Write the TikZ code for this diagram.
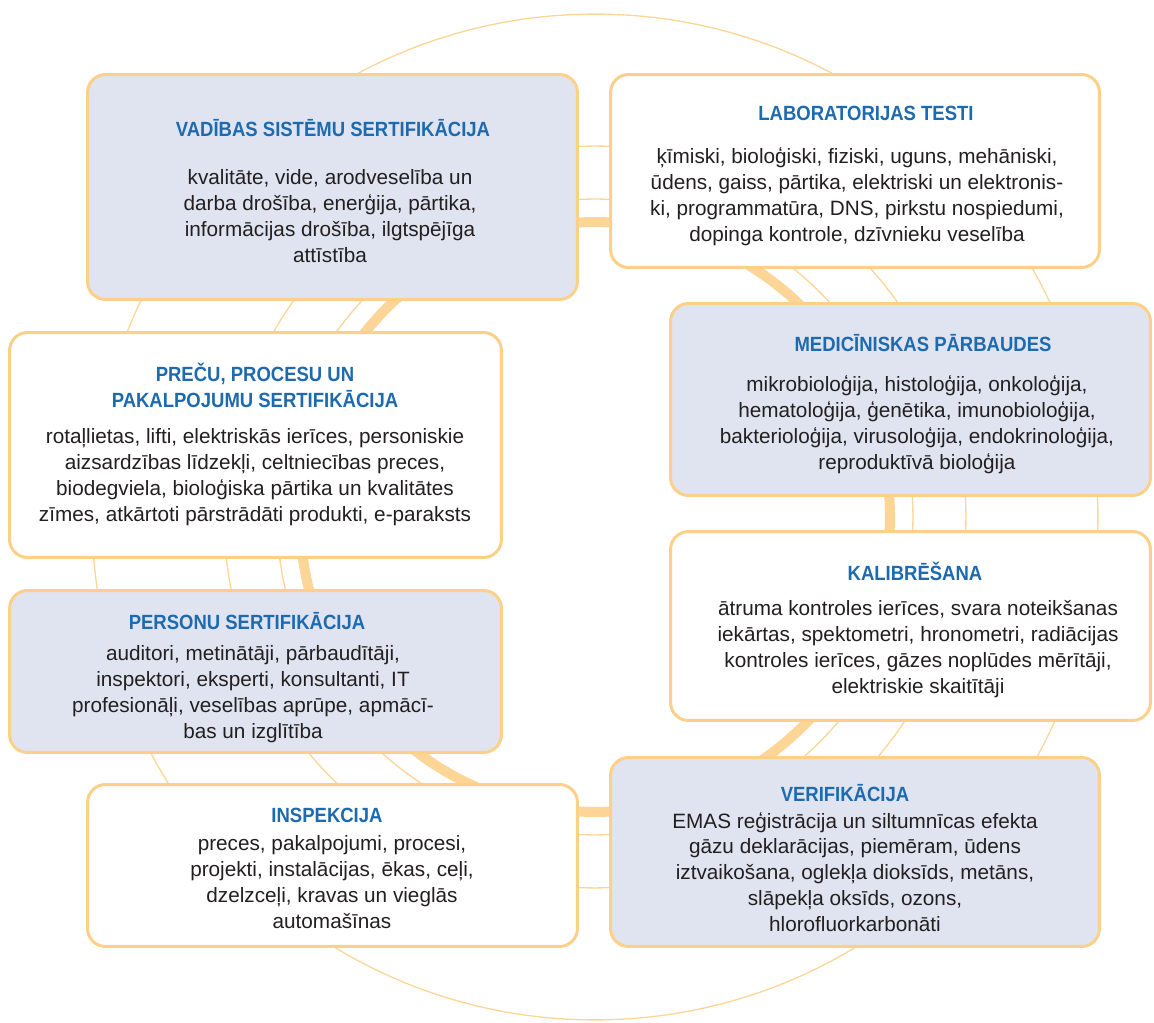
\documentclass[tikz,border=0pt]{standalone}
\usepackage{fontspec}
\setmainfont{Liberation Sans}
\newfontfamily\headfont[FakeStretch=0.9]{Liberation Sans}
\usepackage{xcolor}
\usepackage{tikz}

\definecolor{ringc}{HTML}{FDD597}
\definecolor{edgec}{HTML}{FDD08A}
\definecolor{lav}{HTML}{E0E4F1}
\definecolor{headc}{HTML}{1D6AAE}
\definecolor{txtc}{HTML}{231F20}

\begin{document}
\begin{tikzpicture}[
  x=0.02cm, y=-0.02cm,
  box/.style={draw=edgec, line width=1.7pt, rounded corners=0.36cm, inner sep=0pt},
  head/.style={font=\headfont\bfseries\fontsize{11.7}{14.74}\selectfont, text=headc, align=center},
  body/.style={font=\fontsize{11.8}{14.74}\selectfont, text=txtc, align=center},
  ring/.style={draw=ringc, line width=0.75pt},
  thickring/.style={draw=ringc, line width=5.7pt},
]
\useasboundingbox (0,0) rectangle (1154,1023);

% rings behind the boxes
\coordinate (mid) at (595,517);
\foreach \r in {10.06,7.42,6.36}
  \draw[ring] (mid) circle[radius=\r cm];
\draw[thickring] (mid) circle[radius=5.9cm];

% left column
\node[box, fill=lav, minimum width=9.8cm, minimum height=4.5cm] (vad) at (332.5,187) {};
\node[head] (vadT) at (333,128) {VADĪBAS SISTĒMU SERTIFIKĀCIJA};
\node[body] (vadB) at (330,216)
  {kvalitāte, vide, arodveselība un\\darba drošība, enerģija, pārtika,\\
   informācijas drošība, ilgtspējīga\\attīstība};

\node[box, fill=white, minimum width=9.84cm, minimum height=4.5cm] (prec) at (255.5,445) {};
\node[head] (precT) at (255,385) {PREČU, PROCESU UN\\PAKALPOJUMU SERTIFIKĀCIJA};
\node[body] (precB) at (255,477)
  {rotaļlietas, lifti, elektriskās ierīces, personiskie\\aizsardzības līdzekļi, celtniecības preces,\\
   biodegviela, bioloģiska pārtika un kvalitātes\\zīmes, atkārtoti pārstrādāti produkti, e-paraksts};

\node[box, fill=lav, minimum width=9.84cm, minimum height=3.24cm] (pers) at (255.5,671.5) {};
\node[head] (persT) at (247,621) {PERSONU SERTIFIKĀCIJA};
\node[body] (persB) at (253,694)
  {auditori, metinātāji, pārbaudītāji,\\inspektori, eksperti, konsultanti, IT\\
   profesionāļi, veselības aprūpe, apmācī-\\bas un izglītība};

\node[box, fill=white, minimum width=9.8cm, minimum height=3.24cm] (insp) at (332.5,865.5) {};
\node[head] (inspT) at (327,815) {INSPEKCIJA};
\node[body] (inspB) at (332,882)
  {preces, pakalpojumi, procesi,\\projekti, instalācijas, ēkas, ceļi,\\
   dzelzceļi, kravas un vieglās\\automašīnas};

% right column
\node[box, fill=white, minimum width=9.78cm, minimum height=3.86cm] (lab) at (855,171) {};
\node[head] (labT) at (866,113) {LABORATORIJAS TESTI};
\node[body] (labB) at (857,197)
  {ķīmiski, bioloģiski, fiziski, uguns, mehāniski,\\ūdens, gaiss, pārtika, elektriski un elektronis-\\
   ki, programmatūra, DNS, pirkstu nospiedumi,\\dopinga kontrole, dzīvnieku veselība};

\node[box, fill=lav, minimum width=9.6cm, minimum height=3.84cm] (med) at (910.5,399.5) {};
\node[head] (medT) at (923,343) {MEDICĪNISKAS PĀRBAUDES};
\node[body] (medB) at (917,425)
  {mikrobioloģija, histoloģija, onkoloģija,\\hematoloģija, ģenētika, imunobioloģija,\\
   bakterioloģija, virusoloģija, endokrinoloģija,\\reproduktīvā bioloģija};

\node[box, fill=white, minimum width=9.6cm, minimum height=3.78cm] (kal) at (910.5,626) {};
\node[head] (kalT) at (915,571) {KALIBRĒŠANA};
\node[body] (kalB) at (918,649)
  {ātruma kontroles ierīces, svara noteikšanas\\iekārtas, spektometri, hronometri, radiācijas\\
   kontroles ierīces, gāzes noplūdes mērītāji,\\elektriskie skaitītāji};

\node[box, fill=lav, minimum width=9.78cm, minimum height=3.78cm] (ver) at (855,852) {};
\node[head] (verT) at (845,793) {VERIFIKĀCIJA};
\node[body] (verB) at (855,872)
  {EMAS reģistrācija un siltumnīcas efekta\\gāzu deklarācijas, piemēram, ūdens\\
   iztvaikošana, oglekļa dioksīds, metāns,\\slāpekļa oksīds, ozons,\\hlorofluorkarbonāti};
\end{tikzpicture}
\end{document}
